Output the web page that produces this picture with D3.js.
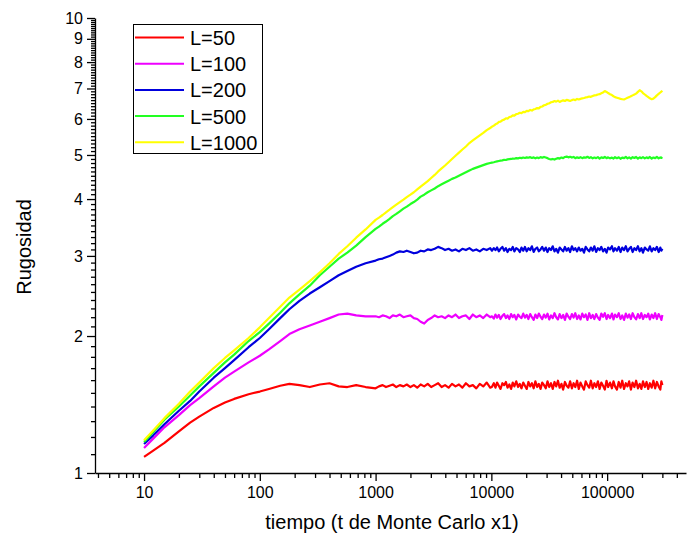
<!DOCTYPE html>
<html><head><meta charset="utf-8">
<script src="https://cdn.jsdelivr.net/npm/d3@7"></script>
<style>body{margin:0;background:#fff} svg{font-family:"Liberation Sans",Arial,sans-serif;display:block}</style>
</head><body><svg id="c" width="700" height="539"></svg>
<script>
const tiempo = [
  10,12,15,20,25,30,40,50,60,80,
  100,120,150,180,220,270,330,400,480,570,
  680,820,1000,1070,1150,1230,1320,1410,1510,1620,
  1740,1860,2000,2140,2290,2450,2630,2820,3020,3240,
  3470,3720,3980,4270,4570,4900,5250,5620,6030,6460,
  6920,7410,7940,8510,9120,9770,
  10100,10500,10850,11200,11600,12000,12450,12900,13350,13800,
  14300,14800,15300,15800,16400,17000,17600,18200,18850,19500,
  20200,20900,21650,22400,23200,24000,24850,25700,26600,27500,
  28500,29500,30550,31600,32750,33900,35100,36300,37600,38900,
  40300,41700,43200,44700,46300,47900,49600,51300,53100,55000,
  56900,58900,61000,63100,65300,67600,70000,72400,75000,77600,
  80350,83200,86100,89100,92250,95500,98800,102000,106000,110000,
  113500,117000,121500,126000,130500,135000,140000,145000,150000,155000,
  160500,166000,172000,178000,184500,191000,197500,204000,211500,219000,
  226500,234000,242500,251000,260000,269000,278500,288000,294000,300000];
const L50 = [
  1.085,1.12,1.165,1.235,1.29,1.33,1.39,1.428,1.455,1.49,
  1.51,1.53,1.555,1.57,1.56,1.545,1.565,1.575,1.55,1.545,
  1.56,1.545,1.535,1.55,1.56,1.545,1.555,1.565,1.545,1.56,
  1.55,1.565,1.545,1.56,1.54,1.565,1.55,1.57,1.545,1.56,
  1.575,1.545,1.56,1.54,1.57,1.55,1.565,1.54,1.575,1.55,
  1.56,1.535,1.57,1.55,1.58,1.54,
  1.545,1.575,1.54,1.58,1.555,1.53,1.575,1.56,1.585,1.54,
  1.565,1.53,1.58,1.55,1.59,1.545,1.57,1.535,1.58,1.555,
  1.53,1.585,1.55,1.575,1.535,1.59,1.545,1.57,1.53,1.58,
  1.56,1.535,1.59,1.545,1.575,1.53,1.585,1.55,1.595,1.54,
  1.57,1.525,1.585,1.555,1.54,1.59,1.535,1.575,1.545,1.595,
  1.53,1.58,1.55,1.525,1.59,1.56,1.54,1.595,1.535,1.575,
  1.545,1.59,1.53,1.58,1.555,1.525,1.595,1.545,1.58,1.535,
  1.59,1.55,1.525,1.585,1.54,1.595,1.53,1.575,1.55,1.59,
  1.525,1.58,1.545,1.595,1.535,1.57,1.53,1.59,1.545,1.585,
  1.53,1.575,1.54,1.595,1.535,1.585,1.55,1.525,1.59,1.56];
const L100 = [
  1.135,1.19,1.26,1.34,1.41,1.46,1.55,1.62,1.67,1.75,
  1.81,1.87,1.95,2.02,2.07,2.11,2.15,2.19,2.23,2.24,
  2.22,2.21,2.21,2.20,2.22,2.21,2.19,2.22,2.21,2.23,
  2.20,2.21,2.22,2.19,2.18,2.15,2.13,2.17,2.19,2.22,
  2.20,2.21,2.19,2.22,2.20,2.23,2.19,2.21,2.22,2.18,
  2.23,2.20,2.22,2.19,2.23,2.20,
  2.21,2.185,2.23,2.195,2.225,2.18,2.215,2.235,2.19,2.22,
  2.18,2.235,2.20,2.225,2.175,2.23,2.205,2.19,2.24,2.195,
  2.225,2.18,2.235,2.20,2.17,2.23,2.19,2.24,2.205,2.18,
  2.23,2.195,2.24,2.175,2.22,2.19,2.245,2.20,2.175,2.235,
  2.19,2.225,2.17,2.24,2.205,2.18,2.235,2.195,2.245,2.18,
  2.22,2.175,2.24,2.20,2.23,2.17,2.245,2.19,2.225,2.18,
  2.235,2.195,2.17,2.24,2.205,2.245,2.18,2.225,2.19,2.24,
  2.175,2.23,2.20,2.245,2.18,2.22,2.17,2.24,2.195,2.23,
  2.18,2.245,2.20,2.175,2.235,2.19,2.245,2.18,2.225,2.20,
  2.24,2.175,2.23,2.19,2.245,2.18,2.235,2.20,2.17,2.225];
const L200 = [
  1.158,1.21,1.28,1.37,1.44,1.51,1.62,1.70,1.77,1.89,
  1.98,2.07,2.19,2.29,2.39,2.48,2.56,2.64,2.72,2.78,
  2.84,2.89,2.93,2.95,2.96,2.98,3.00,3.02,3.05,3.07,
  3.06,3.08,3.06,3.04,3.05,3.08,3.07,3.10,3.09,3.11,
  3.14,3.12,3.09,3.11,3.08,3.10,3.07,3.11,3.09,3.12,
  3.08,3.10,3.07,3.11,3.09,3.12,
  3.08,3.12,3.09,3.13,3.07,3.11,3.14,3.08,3.12,3.06,
  3.11,3.09,3.14,3.07,3.12,3.10,3.06,3.13,3.08,3.14,
  3.07,3.12,3.09,3.15,3.06,3.11,3.13,3.07,3.10,3.14,
  3.08,3.13,3.06,3.12,3.09,3.15,3.07,3.11,3.05,3.13,
  3.10,3.07,3.14,3.08,3.12,3.06,3.15,3.09,3.12,3.07,
  3.13,3.08,3.11,3.05,3.14,3.10,3.07,3.13,3.08,3.15,
  3.06,3.12,3.09,3.14,3.07,3.11,3.05,3.13,3.10,3.15,
  3.07,3.12,3.08,3.14,3.06,3.13,3.09,3.15,3.07,3.11,
  3.14,3.06,3.12,3.09,3.15,3.07,3.12,3.05,3.13,3.10,
  3.08,3.15,3.07,3.12,3.09,3.14,3.06,3.13,3.08,3.11];
const L500 = [
  1.17,1.23,1.31,1.40,1.48,1.55,1.66,1.75,1.82,1.95,
  2.04,2.13,2.25,2.36,2.47,2.58,2.72,2.84,2.96,3.05,
  3.16,3.30,3.44,3.48,3.53,3.57,3.62,3.67,3.71,3.76,
  3.81,3.85,3.90,3.94,3.99,4.05,4.09,4.14,4.18,4.22,
  4.27,4.31,4.35,4.39,4.43,4.46,4.50,4.54,4.58,4.62,
  4.66,4.69,4.72,4.75,4.78,4.80,
  4.81,4.82,4.83,4.84,4.85,4.86,4.865,4.88,4.875,4.89,
  4.895,4.90,4.91,4.905,4.92,4.915,4.93,4.92,4.935,4.925,
  4.94,4.93,4.945,4.925,4.94,4.915,4.935,4.92,4.945,4.93,
  4.95,4.935,4.92,4.90,4.89,4.90,4.885,4.905,4.92,4.91,
  4.935,4.92,4.95,4.96,4.94,4.955,4.935,4.95,4.92,4.94,
  4.925,4.945,4.92,4.94,4.93,4.955,4.925,4.945,4.915,4.935,
  4.92,4.945,4.91,4.94,4.925,4.95,4.92,4.94,4.915,4.935,
  4.91,4.945,4.92,4.94,4.905,4.935,4.92,4.95,4.915,4.94,
  4.91,4.945,4.925,4.95,4.91,4.94,4.92,4.945,4.915,4.94,
  4.92,4.95,4.91,4.935,4.92,4.95,4.915,4.94,4.925,4.945];
const L1000 = [
  1.18,1.24,1.32,1.42,1.51,1.58,1.70,1.79,1.86,1.98,
  2.09,2.19,2.32,2.43,2.53,2.64,2.76,2.89,3.03,3.15,
  3.29,3.43,3.60,3.64,3.69,3.74,3.79,3.84,3.89,3.94,
  3.99,4.04,4.09,4.14,4.20,4.26,4.32,4.38,4.45,4.52,
  4.60,4.67,4.74,4.82,4.90,4.98,5.06,5.14,5.22,5.31,
  5.38,5.45,5.52,5.59,5.67,5.73,
  5.77,5.80,5.84,5.86,5.91,5.92,5.96,5.98,6.02,6.01,
  6.06,6.07,6.11,6.10,6.15,6.16,6.19,6.18,6.22,6.21,
  6.25,6.24,6.28,6.26,6.30,6.31,6.34,6.33,6.38,6.39,
  6.43,6.44,6.48,6.49,6.53,6.54,6.57,6.55,6.58,6.54,
  6.57,6.59,6.57,6.61,6.59,6.57,6.60,6.62,6.60,6.64,
  6.62,6.64,6.66,6.67,6.69,6.70,6.72,6.71,6.74,6.76,
  6.77,6.79,6.80,6.83,6.86,6.91,6.88,6.84,6.80,6.77,
  6.73,6.70,6.68,6.66,6.64,6.63,6.62,6.65,6.68,6.70,
  6.73,6.76,6.79,6.82,6.88,6.94,6.90,6.84,6.79,6.74,
  6.70,6.66,6.63,6.65,6.70,6.76,6.81,6.86,6.89,6.92];

const seriesNames = ["L=50","L=100","L=200","L=500","L=1000"];
const seriesValues = [L50, L100, L200, L500, L1000];
const seriesColors = ["#ff0000","#ee00ff","#0000dd","#22ff22","#ffff00"];
const xTickValues = [10,100,1000,10000,100000];
const yTickValues = [1,2,3,4,5,6,7,8,9,10];
const xLabel = "tiempo (t de Monte Carlo x1)";
const yLabel = "Rugosidad";

const svg = d3.select("#c");
const x = d3.scaleLog().domain([3.77, 480000]).range([95, 686]);
const y = d3.scaleLog().domain([1, 10]).range([473, 18]);

// minor tick positions
const xMinor = [];
[1,10,100,1000,10000,100000].forEach(d => { for (let m = 2; m <= 9; m++) { const v = m*d; if (v >= x.domain()[0] && v <= x.domain()[1]) xMinor.push(v); } });
const yMinor = [];
for (let k = 1; k < 10; k++) for (let j = 1; j <= 9; j++) yMinor.push(k + j/10);

const fmt = d => String(d);

// x axis
const gx = svg.append("g").attr("transform", `translate(0,${y.range()[0]})`);
gx.call(d3.axisBottom(x).tickValues(xMinor).tickSize(5).tickFormat("").tickSizeOuter(0));
gx.select(".domain").remove();
const gx2 = svg.append("g").attr("transform", `translate(0,${y.range()[0]})`);
gx2.call(d3.axisBottom(x).tickValues(xTickValues).tickSize(8).tickPadding(6).tickFormat(fmt).tickSizeOuter(0));

// y axis
const gy = svg.append("g").attr("transform", `translate(${x.range()[0]},0)`);
gy.call(d3.axisLeft(y).tickValues(yMinor).tickSize(4).tickFormat("").tickSizeOuter(0));
gy.select(".domain").remove();
const gy2 = svg.append("g").attr("transform", `translate(${x.range()[0]},0)`);
gy2.call(d3.axisLeft(y).tickValues(yTickValues).tickSize(8).tickPadding(4).tickFormat(fmt).tickSizeOuter(0));

svg.selectAll(".tick line, .domain").attr("stroke", "#000").attr("stroke-width", 1.3);
svg.selectAll(".tick text").attr("font-size", 16).attr("fill", "#000").attr("font-family", "Liberation Sans, Arial, sans-serif");

// lines
const line = d3.line().x((d, i) => x(tiempo[i])).y(d => y(d));
seriesValues.forEach((vals, si) => {
  svg.append("path").datum(vals)
    .attr("fill", "none")
    .attr("stroke", seriesColors[si])
    .attr("stroke-width", 2.2)
    .attr("stroke-linejoin", "round")
    .attr("d", line);
});

// legend
const lg = svg.append("g");
lg.append("rect").attr("x", 133.5).attr("y", 24.5).attr("width", 129).attr("height", 129)
  .attr("fill", "#fff").attr("stroke", "#000").attr("stroke-width", 1);
seriesNames.forEach((n, i) => {
  const yy = 37.5 + i * 26.2;
  lg.append("line").attr("x1", 135).attr("x2", 184).attr("y1", yy).attr("y2", yy)
    .attr("stroke", seriesColors[i]).attr("stroke-width", 2);
  lg.append("text").attr("x", 190).attr("y", yy + 7.5).attr("font-size", 20).attr("fill", "#000").text(n);
});

// axis titles
svg.append("text").attr("x", 392).attr("y", 529).attr("text-anchor", "middle")
  .attr("font-size", 20).attr("fill", "#000").text(xLabel);
svg.append("text").attr("transform", "translate(31,247) rotate(-90)").attr("text-anchor", "middle")
  .attr("font-size", 20).attr("fill", "#000").text(yLabel);
</script>
</body></html>
